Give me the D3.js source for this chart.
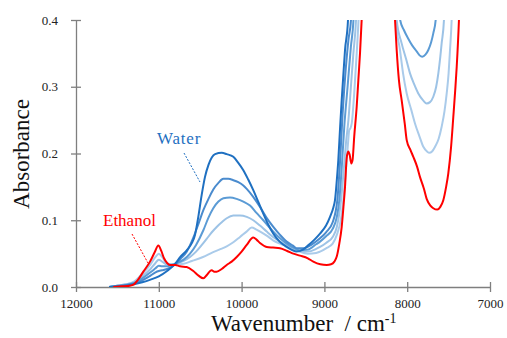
<!DOCTYPE html>
<html>
<head>
<meta charset="utf-8">
<script src="https://cdn.jsdelivr.net/npm/d3@7"></script>
<style>
  body { margin: 0; background: #fff; }
  #chart text { font-family: "Liberation Serif", "Times New Roman", "DejaVu Serif", serif; }
</style>
</head>
<body>
<svg id="chart" width="507" height="338" font-family="Liberation Serif"></svg>
<script>
// tick values
const xTicks = [12000, 11000, 10000, 9000, 8000, 7000];
const yTicks = [0, 0.1, 0.2, 0.3, 0.4];

// spectra as [wavenumber, absorbance]; values above 0.4 run off the top of the plot
const water1 = [[11600,0],[11500,0.001],[11400,0.002],[11300,0.004],[11200,0.007],[11100,0.011],[11000,0.016],[10900,0.024],[10800,0.035],[10740,0.045],[10663,0.055],[10600,0.066],[10563,0.078],[10523,0.105],[10482,0.138],[10442,0.165],[10400,0.183],[10360,0.194],[10320,0.199],[10240,0.201],[10180,0.199],[10100,0.195],[10040,0.186],[9979,0.175],[9920,0.161],[9859,0.145],[9800,0.128],[9738,0.110],[9680,0.094],[9617,0.080],[9540,0.068],[9456,0.060],[9400,0.056],[9335,0.053],[9260,0.056],[9200,0.062],[9120,0.071],[9053,0.080],[8980,0.092],[8932,0.105],[8890,0.12],[8872,0.13],[8850,0.16],[8832,0.19],[8810,0.24],[8791,0.28],[8770,0.32],[8751,0.355],[8715,0.4],[8690,0.5],[8640,1.0],[8550,1.6]];

const water2 = [[11600,0],[11500,0.001],[11400,0.003],[11300,0.005],[11200,0.010],[11100,0.017],[11040,0.022],[11000,0.024],[10960,0.025],[10900,0.027],[10800,0.034],[10740,0.042],[10663,0.053],[10583,0.074],[10520,0.095],[10462,0.115],[10400,0.132],[10342,0.146],[10280,0.156],[10220,0.162],[10160,0.162],[10100,0.160],[10040,0.157],[9979,0.152],[9938,0.147],[9860,0.135],[9778,0.120],[9700,0.104],[9617,0.090],[9536,0.078],[9456,0.068],[9380,0.062],[9335,0.058],[9250,0.058],[9150,0.064],[9053,0.073],[8980,0.082],[8900,0.097],[8844,0.13],[8810,0.19],[8780,0.26],[8740,0.33],[8710,0.37],[8679,0.4],[8650,0.5],[8600,1.0],[8500,1.6]];

const water3 = [[11600,0],[11500,0.002],[11400,0.003],[11300,0.006],[11200,0.013],[11100,0.022],[11040,0.028],[11000,0.032],[10960,0.031],[10900,0.031],[10800,0.035],[10700,0.041],[10623,0.050],[10550,0.063],[10462,0.085],[10400,0.104],[10342,0.118],[10280,0.128],[10220,0.133],[10140,0.134],[10060,0.132],[9979,0.128],[9898,0.122],[9820,0.111],[9738,0.100],[9697,0.094],[9617,0.083],[9536,0.073],[9456,0.065],[9375,0.059],[9300,0.055],[9200,0.056],[9100,0.064],[9053,0.068],[8980,0.076],[8900,0.087],[8850,0.105],[8820,0.13],[8790,0.18],[8760,0.24],[8720,0.30],[8680,0.36],[8649,0.4],[8620,0.5],[8560,1.0],[8450,1.5],
  [8200,1.5],[8120,0.5],[8085,0.4],[8040,0.385],[7987,0.372],[7940,0.362],[7886,0.353],[7850,0.347],[7818,0.345],[7780,0.348],[7745,0.355],[7710,0.367],[7685,0.38],[7656,0.4],[7630,0.45],[7580,0.7]];

const water4 = [[11600,0],[11500,0.002],[11400,0.004],[11300,0.007],[11200,0.016],[11100,0.027],[11040,0.036],[11000,0.041],[10960,0.038],[10900,0.034],[10800,0.035],[10700,0.039],[10623,0.045],[10550,0.053],[10480,0.063],[10422,0.072],[10360,0.082],[10301,0.090],[10240,0.097],[10180,0.103],[10100,0.107],[10020,0.107],[9938,0.105],[9859,0.100],[9778,0.092],[9697,0.083],[9620,0.075],[9536,0.068],[9456,0.062],[9375,0.057],[9300,0.054],[9200,0.053],[9100,0.057],[9053,0.060],[8980,0.066],[8900,0.075],[8850,0.09],[8799,0.13],[8770,0.17],[8740,0.215],[8710,0.25],[8680,0.30],[8650,0.35],[8618,0.4],[8590,0.5],[8520,1.0],[8450,1.5],
  [8250,1.5],[8170,0.5],[8127,0.4],[8067,0.365],[8010,0.34],[7966,0.32],[7920,0.305],[7866,0.29],[7810,0.28],[7765,0.275],[7725,0.277],[7685,0.285],[7650,0.30],[7624,0.32],[7600,0.345],[7584,0.365],[7556,0.4],[7530,0.5],[7480,0.9]];

const water5 = [[11600,0],[11500,0.002],[11400,0.004],[11300,0.008],[11200,0.020],[11100,0.034],[11040,0.045],[11000,0.050],[10960,0.045],[10920,0.038],[10860,0.034],[10800,0.034],[10700,0.035],[10600,0.039],[10466,0.045],[10350,0.052],[10250,0.057],[10180,0.061],[10100,0.067],[10019,0.075],[9940,0.083],[9878,0.089],[9820,0.086],[9760,0.082],[9697,0.077],[9620,0.070],[9536,0.065],[9450,0.061],[9375,0.057],[9300,0.053],[9200,0.050],[9100,0.051],[9053,0.053],[8980,0.058],[8900,0.065],[8850,0.078],[8800,0.102],[8771,0.13],[8740,0.175],[8715,0.215],[8700,0.235],[8685,0.238],[8670,0.245],[8640,0.29],[8610,0.35],[8588,0.4],[8560,0.5],[8500,1.0],[8450,1.5],
  [8250,1.5],[8170,0.5],[8139,0.4],[8087,0.355],[8050,0.32],[8006,0.29],[7950,0.265],[7906,0.245],[7850,0.225],[7805,0.21],[7760,0.203],[7733,0.201],[7700,0.203],[7664,0.21],[7620,0.222],[7584,0.24],[7550,0.263],[7523,0.29],[7500,0.32],[7483,0.355],[7463,0.4],[7440,0.5],[7380,1.0]];

const ethanol = [[11550,0],[11450,0.001],[11350,0.002],[11300,0.004],[11250,0.011],[11187,0.023],[11106,0.038],[11050,0.052],[11006,0.062],[10970,0.054],[10937,0.043],[10900,0.036],[10865,0.033],[10800,0.033],[10744,0.031],[10663,0.030],[10583,0.024],[10520,0.017],[10462,0.013],[10420,0.018],[10380,0.024],[10361,0.025],[10330,0.023],[10301,0.023],[10240,0.027],[10180,0.033],[10120,0.038],[10059,0.045],[10000,0.053],[9938,0.063],[9859,0.074],[9820,0.071],[9778,0.066],[9697,0.060],[9620,0.059],[9536,0.058],[9450,0.054],[9375,0.050],[9295,0.047],[9200,0.043],[9134,0.038],[9050,0.034],[8972,0.033],[8920,0.034],[8880,0.038],[8850,0.046],[8820,0.065],[8791,0.09],[8770,0.12],[8751,0.15],[8731,0.193],[8712,0.203],[8695,0.198],[8675,0.185],[8660,0.19],[8640,0.225],[8610,0.27],[8590,0.31],[8570,0.35],[8550,0.4],[8520,0.5],[8460,1.0],[8400,1.5],
  [8250,1.5],[8180,0.5],[8147,0.4],[8127,0.355],[8100,0.31],[8067,0.28],[8030,0.245],[8006,0.22],[7960,0.205],[7926,0.195],[7880,0.18],[7846,0.165],[7800,0.148],[7765,0.132],[7720,0.122],[7685,0.118],[7636,0.116],[7600,0.12],[7564,0.13],[7530,0.15],[7504,0.17],[7470,0.21],[7443,0.255],[7420,0.295],[7402,0.33],[7375,0.4],[7350,0.5],[7300,0.8]];

const serif = "'Liberation Serif', 'Times New Roman', 'DejaVu Serif', serif";
const svg = d3.select("#chart");
const plotLeft = 76, plotRight = 490, plotTop = 20, plotBottom = 287;

const x = d3.scaleLinear().domain([12000, 7000]).range([plotLeft, plotRight]);
const y = d3.scaleLinear().domain([0, 0.4]).range([plotBottom, plotTop]);

svg.append("defs").append("clipPath").attr("id", "plotclip")
  .append("rect")
  .attr("x", plotLeft).attr("y", plotTop)
  .attr("width", plotRight - plotLeft).attr("height", plotBottom - plotTop);

// axes
const axisColor = "#7f7f7f";
const yAxis = svg.append("g")
  .attr("transform", "translate(" + plotLeft + ",0)")
  .call(d3.axisLeft(y).tickValues(yTicks).tickFormat(d3.format(".1f"))
    .tickSize(5).tickSizeOuter(0).tickPadding(13));
yAxis.selectAll(".tick line").attr("x1", 5);

const xAxis = svg.append("g")
  .attr("transform", "translate(0," + plotBottom + ")")
  .call(d3.axisBottom(x).tickValues(xTicks).tickFormat(d => d)
    .tickSize(5).tickSizeOuter(0).tickPadding(7));
xAxis.selectAll(".tick line").attr("y1", -5);

svg.selectAll("g").attr("font-family", serif);
svg.selectAll(".domain, .tick line").attr("stroke", axisColor).attr("stroke-width", 1.3);
svg.selectAll(".tick text")
  .attr("fill", "#222")
  .style("font-family", serif)
  .style("font-size", "13px");

// curves
const line = d3.line()
  .x(d => x(d[0]))
  .y(d => y(d[1]))
  .curve(d3.curveMonotoneX);

const series = [
  { data: water5, color: "#aacbea" },
  { data: water4, color: "#9dc3e6" },
  { data: water3, color: "#5b9bd5" },
  { data: water2, color: "#4a8bce" },
  { data: water1, color: "#1f70c1" },
  { data: ethanol, color: "#ff0000" }
];

const plot = svg.append("g").attr("clip-path", "url(#plotclip)");
plot.selectAll("path.spec")
  .data(series)
  .enter()
  .append("path")
  .attr("class", "spec")
  .attr("d", d => line(d.data))
  .attr("fill", "none")
  .attr("stroke", d => d.color)
  .attr("stroke-width", 2)
  .attr("stroke-linejoin", "round");

// labels
svg.append("text")
  .attr("x", 157).attr("y", 144)
  .attr("fill", "#1f70c1")
  .style("font-family", serif)
  .style("font-size", "17px")
  .style("letter-spacing", "0.8px")
  .text("Water");
svg.append("line")
  .attr("x1", 184).attr("y1", 153).attr("x2", 200).attr("y2", 182)
  .attr("stroke", "#1f70c1").attr("stroke-width", 1)
  .attr("stroke-dasharray", "2,1.5");

svg.append("text")
  .attr("x", 103).attr("y", 226)
  .attr("fill", "#ff0000")
  .style("font-family", serif)
  .style("font-size", "17px")
  .text("Ethanol");
svg.append("line")
  .attr("x1", 132).attr("y1", 234).attr("x2", 148).attr("y2", 263)
  .attr("stroke", "#ff0000").attr("stroke-width", 1)
  .attr("stroke-dasharray", "2,1.5");

// axis titles
svg.append("text")
  .attr("transform", "translate(29,154) rotate(-90)")
  .attr("text-anchor", "middle")
  .attr("fill", "#111")
  .style("font-family", serif)
  .style("font-size", "23px")
  .text("Absorbance");

const xt = svg.append("text")
  .attr("x", 211).attr("y", 331)
  .attr("fill", "#111")
  .style("font-family", serif)
  .style("font-size", "23px")
  .style("white-space", "pre")
  .text("Wavenumber  / cm");
xt.append("tspan")
  .attr("dy", -8)
  .style("font-size", "14px")
  .text("-1");
</script>
</body>
</html>
